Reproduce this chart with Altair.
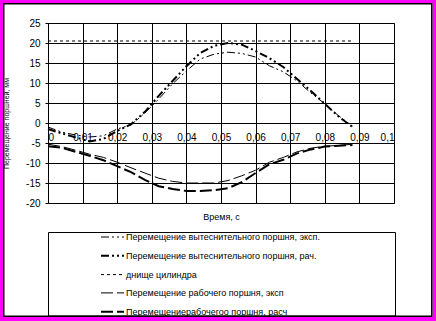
import altair as alt
import pandas as pd

FONT = "Liberation Sans"

t_values = [0, 0.004, 0.008, 0.012, 0.016, 0.020, 0.024, 0.028, 0.032, 0.036, 0.040,
            0.044, 0.048, 0.052, 0.056, 0.060, 0.064, 0.068, 0.072, 0.076, 0.080, 0.084, 0.088]
displacer_exp = [-1.0, -2.3, -3.0, -3.5, -3.2, -1.5, -0.5, 2.5, 6.0, 9.8, 13.0,
                 16.0, 17.2, 17.7, 17.4, 16.5, 14.3, 12.8, 10.5, 7.5, 4.8, 1.8, -0.8]
displacer_calc = [-1.5, -2.6, -3.6, -4.6, -4.0, -2.0, -0.3, 2.8, 6.8, 10.5, 14.2,
                  17.5, 19.3, 20.0, 19.6, 18.0, 16.2, 14.0, 11.0, 8.0, 4.8, 1.6, -1.0]
working_exp = [-5.3, -5.9, -6.8, -7.8, -8.6, -9.8, -11.2, -12.5, -13.8, -14.6, -15.0,
               -15.0, -15.0, -14.4, -13.2, -11.8, -9.8, -8.6, -7.2, -6.3, -5.8, -5.6, -5.3]
working_calc = [-5.8, -6.2, -7.2, -8.2, -9.3, -10.8, -12.3, -14.2, -15.8, -16.5, -17.0,
                -17.0, -16.8, -16.3, -14.8, -12.5, -10.3, -9.2, -7.6, -6.6, -5.9, -5.7, -5.5]
bottom_t = [0, 0.088]
bottom_v = [20.5, 20.5]

series_names = [
    "Перемещение вытеснительного поршня, эксп.",
    "Перемещение вытеснительного поршня, рач.",
    "днище цилиндра",
    "Перемещение рабочего поршня, эксп",
    "Перемещениерабочегоо поршня, расч",
]
dash_styles = [[8, 3, 2, 3, 2, 3], [8, 3, 2, 3, 2, 3], [3, 3], [12, 4], [12, 4]]
stroke_widths = [1, 2, 1, 1, 2]

x_ticks = [0, 0.01, 0.02, 0.03, 0.04, 0.05, 0.06, 0.07, 0.08, 0.09, 0.1]
y_ticks = [-20, -15, -10, -5, 0, 5, 10, 15, 20, 25]

rows = []
series_data = [
    (series_names[0], t_values, displacer_exp),
    (series_names[1], t_values, displacer_calc),
    (series_names[2], bottom_t, bottom_v),
    (series_names[3], t_values, working_exp),
    (series_names[4], t_values, working_calc),
]
for name, ts, vs in series_data:
    for i, (tt, vv) in enumerate(zip(ts, vs)):
        rows.append({"series": name, "t": tt, "v": vv, "i": i})
df = pd.DataFrame(rows)

legend = alt.Legend(
    orient="none", legendX=52, legendY=202, title=None,
    symbolType="stroke", symbolSize=529, symbolStrokeColor="black",
    labelFont=FONT, labelFontSize=9, labelColor="black", labelLimit=0,
    labelOffset=1, rowPadding=1.3, padding=0, direction="vertical",
)

lines = alt.Chart(df).mark_line(color="black").encode(
    x=alt.X("t:Q", scale=alt.Scale(domain=[0, 0.1], nice=False),
            axis=alt.Axis(values=x_ticks, labelExpr="replace(toString(datum.value), '.', ',')",
                          offset=-80, grid=True, gridColor="black", gridOpacity=1, gridWidth=1,
                          domainColor="black", ticks=False, labelPadding=9,
                          labelFont=FONT, labelFontSize=10, labelColor="black",
                          title="Время, с", titleX=173, titleY=93, titleAlign="center",
                          titleBaseline="middle", titleFont=FONT, titleFontSize=9,
                          titleFontWeight="normal", titleColor="black")),
    y=alt.Y("v:Q", scale=alt.Scale(domain=[-20, 25], nice=False, zero=False),
            axis=alt.Axis(values=y_ticks, labelExpr="toString(datum.value)",
                          grid=True, gridColor="black", gridOpacity=1, gridWidth=1,
                          domainColor="black", tickColor="black", tickSize=3, labelPadding=5,
                          labelFont=FONT, labelFontSize=10, labelColor="black",
                          title="Перемещение поршней, мм", titleX=-42, titleY=100,
                          titleAngle=270, titleAlign="center", titleBaseline="middle",
                          titleFont=FONT, titleFontSize=7, titleFontWeight="normal",
                          titleColor="black")),
    strokeDash=alt.StrokeDash("series:N",
                              scale=alt.Scale(type="ordinal", domain=series_names, range=dash_styles),
                              legend=legend),
    strokeWidth=alt.StrokeWidth("series:N",
                                scale=alt.Scale(type="ordinal", domain=series_names, range=stroke_widths),
                                legend=legend),
    detail="series:N",
    order="i:Q",
)

one = alt.Data(values=[{"k": 1}])
legend_box = alt.Chart(one).mark_rect(fillOpacity=0, stroke="black", strokeWidth=1).encode(
    x=alt.value(0.5), x2=alt.value(347.5), y=alt.value(209.5), y2=alt.value(293))
magenta = alt.Chart(one).mark_rect(fillOpacity=0, stroke="#ff00ff", strokeWidth=8).encode(
    x=alt.value(-49), x2=alt.value(388.5), y=alt.value(-24), y2=alt.value(298))
frame = alt.Chart(one).mark_rect(fillOpacity=0, stroke="black", strokeWidth=1.5).encode(
    x=alt.value(-44.25), x2=alt.value(383.75), y=alt.value(-19.25), y2=alt.value(293.25))

chart = alt.layer(lines, legend_box, magenta, frame).properties(
    width=346, height=180,
    autosize=alt.AutoSizeParams(type="none"),
    padding={"left": 48, "top": 23, "right": 42, "bottom": 118},
    background="white",
).configure_view(stroke="#808080", strokeWidth=1)

chart.save("out.html", embed_options={"renderer": "svg", "actions": False})
